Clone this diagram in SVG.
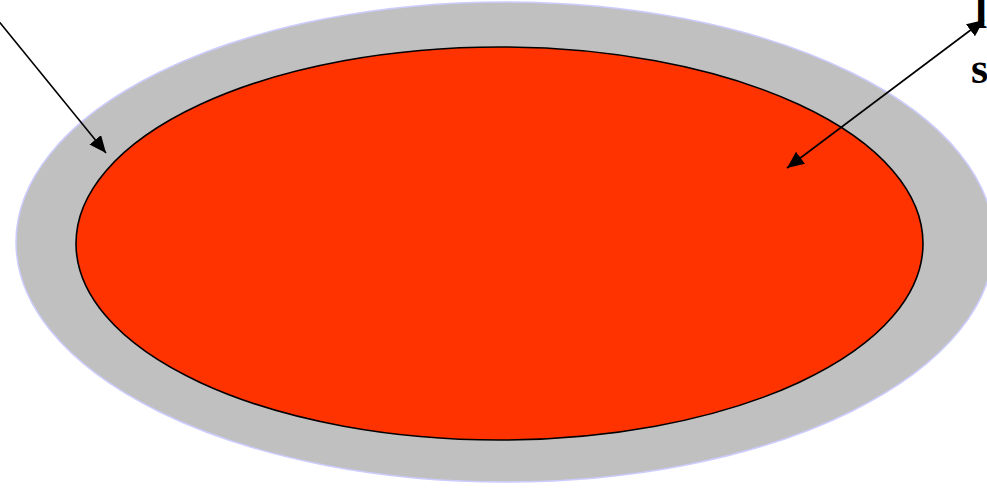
<svg xmlns="http://www.w3.org/2000/svg" width="987" height="490" viewBox="0 0 987 490">
<style>
.conn{stroke:#000;stroke-width:1.6;fill:none}
.lbl{font-family:"Liberation Serif","Times New Roman",serif;font-weight:bold;font-size:44px;fill:#000}
</style>
<defs>
<marker id="ah" markerUnits="userSpaceOnUse" markerWidth="20" markerHeight="16" refX="17" refY="7.5" orient="auto-start-reverse">
<path d="M0,0 L17,7.5 L0,15 Z" fill="#000"/>
</marker>
</defs>
<rect width="987" height="490" fill="#fff"/>
<g id="outer">
<ellipse cx="505" cy="242" rx="489" ry="240" fill="#c0c0c0" stroke="#ccccff" stroke-width="1.5"/>
</g>
<g id="inner">
<ellipse cx="499.5" cy="243.5" rx="423.5" ry="196.5" fill="#ff3300" stroke="#000" stroke-width="1.6"/>
</g>
<g id="connectors">
<line class="conn" x1="-8" y1="13" x2="106" y2="153" marker-end="url(#ah)"/>
<line class="conn" x1="787" y1="168" x2="984" y2="20" marker-start="url(#ah)" marker-end="url(#ah)"/>
</g>
<g id="labels">
<text class="lbl" x="975" y="28">l</text>
<text class="lbl" x="971" y="83">s</text>
</g>
</svg>
